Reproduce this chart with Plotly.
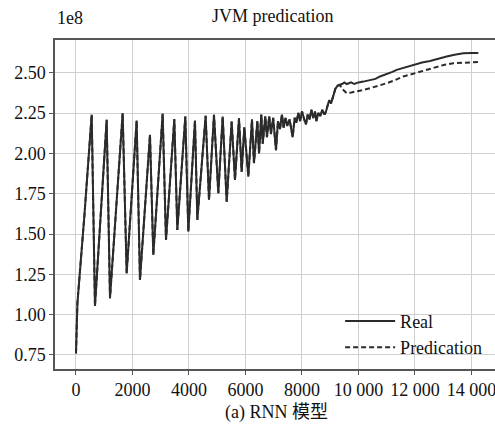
import plotly.graph_objects as go

# ---- data (values in units of 1e8) ----
real_x = [0, 50, 300, 556, 672, 1086, 1204, 1652, 1794, 2147, 2265, 2619, 2737,
          3068, 3186, 3481, 3587, 3870, 3976, 4212, 4295, 4590, 4708, 4885, 5038,
          5192, 5334, 5510, 5628, 5770, 5864, 5959, 6100, 6230, 6300, 6420, 6480,
          6560, 6610, 6700, 6760, 6840, 6900, 6980, 7080, 7150, 7220, 7290, 7350,
          7420, 7480, 7560, 7670, 7740, 7800, 7870, 7930, 8000, 8080, 8140, 8200,
          8270, 8330, 8400, 8460, 8510, 8580, 8650, 8720, 8800, 8850, 8900, 8960,
          9030, 9100, 9180, 9260, 9340, 9420, 9500, 9580, 9660, 9740, 9850, 10000,
          10171, 10400, 10600, 10761, 11000, 11200, 11351, 11650, 11941, 12250,
          12531, 12800, 13121, 13400, 13711, 14000, 14242]
real_y = [0.76, 1.07, 1.62, 2.24, 1.054, 2.208, 1.102, 2.249, 1.257, 2.203, 1.215, 2.115, 1.370,
          2.245, 1.463, 2.212, 1.525, 2.228, 1.515, 2.203, 1.588, 2.233, 1.712, 2.239, 1.753,
          2.228, 1.701, 2.197, 1.836, 2.218, 1.887, 2.162, 1.856, 2.21, 1.94, 2.20, 2.00,
          2.24, 2.06, 2.23, 2.10, 2.23, 2.12, 2.22, 2.02, 2.20, 2.15, 2.24, 2.16,
          2.22, 2.17, 2.21, 2.10, 2.22, 2.19, 2.25, 2.20, 2.26, 2.21, 2.18, 2.24,
          2.21, 2.27, 2.22, 2.26, 2.20, 2.25, 2.23, 2.27, 2.24, 2.26, 2.30, 2.33,
          2.31, 2.36, 2.40, 2.42, 2.425, 2.43, 2.44, 2.43, 2.435, 2.44, 2.43, 2.44,
          2.445, 2.455, 2.462, 2.477, 2.49, 2.505, 2.518, 2.533, 2.549, 2.563,
          2.573, 2.588, 2.601, 2.612, 2.621, 2.623, 2.622]

# predication coincides with real until ~9340, then runs below it
pred_tail_x = [9420, 9500, 9581, 9750, 9935, 10150, 10407, 10700, 10998, 11300,
               11586, 11900, 12177, 12450, 12768, 13050, 13357, 13800, 14242]
pred_tail_y = [2.40, 2.385, 2.373, 2.378, 2.383, 2.392, 2.404, 2.418, 2.435, 2.455,
               2.477, 2.492, 2.507, 2.522, 2.538, 2.550, 2.559, 2.563, 2.566]
split = real_x.index(9340)
pred_x = real_x[:split + 1] + pred_tail_x
pred_y = real_y[:split + 1] + pred_tail_y

x_ticks = [0, 2000, 4000, 6000, 8000, 10000, 12000, 14000]
x_ticktext = ["0", "2000", "4000", "6000", "8000", "10 000", "12 000", "14 000"]
y_ticks = [0.75, 1.00, 1.25, 1.50, 1.75, 2.00, 2.25, 2.50]

FONT = "Liberation Serif, Times New Roman, Noto Sans CJK SC, serif"
LC = "#2b2b2b"
TC = "#111"

fig = go.Figure()
fig.add_trace(go.Scatter(x=real_x, y=real_y, mode="lines", name="Real",
                         line=dict(color=LC, width=2)))
fig.add_trace(go.Scatter(x=pred_x, y=pred_y, mode="lines", name="Predication",
                         line=dict(color=LC, width=2, dash="5px,3px")))

fig.update_layout(
    width=495, height=432,
    margin=dict(l=55, r=0, t=40, b=63, autoexpand=False),
    paper_bgcolor="white", plot_bgcolor="white",
    font=dict(family=FONT, size=18, color=TC),
    showlegend=True,
    legend=dict(x=0.648, y=0.01, xanchor="left", yanchor="bottom",
                bgcolor="rgba(255,255,255,0)", borderwidth=0,
                font=dict(size=18, family=FONT, color=TC), itemwidth=50,
                tracegroupgap=0),
    xaxis=dict(range=[-743, 14832], tickvals=x_ticks, ticktext=x_ticktext,
               automargin=False, ticklabeloverflow="allow",
               tickfont=dict(size=18, family=FONT, color=TC),
               showgrid=True, gridcolor="#cfcfcf", gridwidth=1.2,
               showline=True, linecolor="#555", linewidth=1.5, mirror=True,
               ticks="outside", ticklen=4, tickcolor="#555", zeroline=False),
    yaxis=dict(range=[0.663, 2.703], tickvals=y_ticks, tickformat=".2f",
               automargin=False,
               tickfont=dict(size=18, family=FONT, color=TC),
               showgrid=True, gridcolor="#cfcfcf", gridwidth=1.2,
               showline=True, linecolor="#555", linewidth=1.5,
               ticks="outside", ticklen=4, tickcolor="#555", zeroline=False),
    annotations=[
        dict(text="JVM predication", xref="paper", yref="paper", x=(272 - 55) / 440,
             y=1 + 24 / 329, xanchor="center", yanchor="middle", showarrow=False,
             font=dict(size=18, family=FONT, color=TC)),
        dict(text="1e8", xref="paper", yref="paper", x=0, y=1 + 22 / 329,
             xanchor="left", yanchor="middle", showarrow=False,
             font=dict(size=18, family=FONT, color=TC)),
        dict(text="(a) RNN 模型", xref="paper", yref="paper", x=(276 - 55) / 440,
             y=-(412 - 369) / 329, xanchor="center", yanchor="middle", showarrow=False,
             font=dict(size=18, family=FONT, color=TC)),
    ],
)

fig.write_html("out.html", config={"displayModeBar": False},
               post_script="document.body.style.margin='0';document.body.style.overflow='hidden';")
